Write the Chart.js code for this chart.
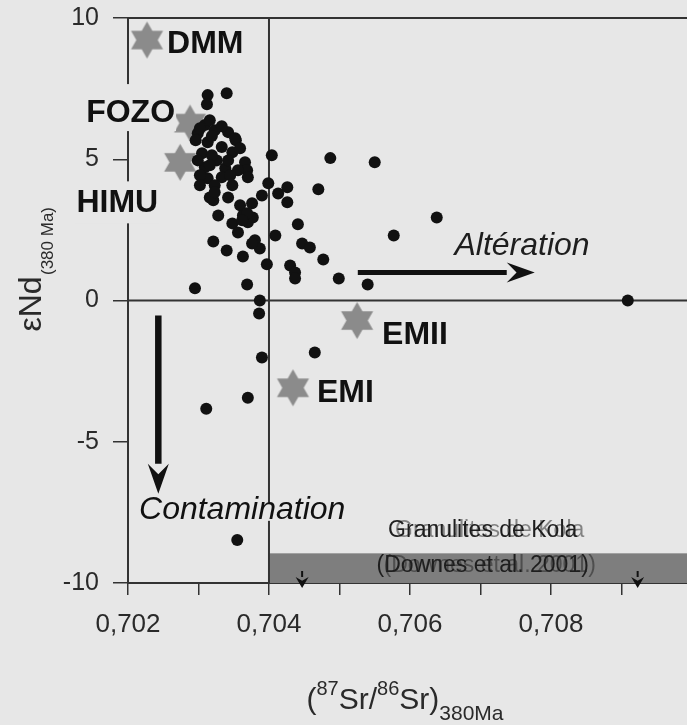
<!DOCTYPE html>
<html>
<head>
<meta charset="utf-8">
<script src="https://cdn.jsdelivr.net/npm/chart.js@4"></script>
<style>
  html, body { margin: 0; padding: 0; background: #e7e7e7; overflow: hidden; }
  #wrap { width: 687px; height: 725px; }
</style>
</head>
<body>
<div id="wrap"><canvas id="grafico" width="687" height="725"></canvas></div>
<script>
// échantillons : (87Sr/86Sr)380Ma et eNd(380 Ma)
const sampleSr = [
    0.70313, 0.70312, 0.70340, 0.70404, 0.70487, 0.70550, 0.70470, 0.70638, 0.70577, 0.70441,
    0.70409, 0.70447, 0.70458, 0.70477, 0.70397, 0.70430, 0.70437, 0.70437, 0.70499, 0.70540,
    0.70909, 0.70387, 0.70386, 0.70426, 0.70413, 0.70426, 0.70390, 0.70465, 0.70370, 0.70311,
    0.70355, 0.70295, 0.70369, 0.70321, 0.70340, 0.70363, 0.70380, 0.70387, 0.70376, 0.70321,
    0.70342, 0.70359, 0.70376, 0.70390, 0.70328, 0.70363, 0.70377, 0.70348, 0.70370, 0.70356,
    0.70309, 0.70299, 0.70323, 0.70342, 0.70313, 0.70333, 0.70348, 0.70305, 0.70326, 0.70309,
    0.70338, 0.70313, 0.70333, 0.70366, 0.70369, 0.70370, 0.70348, 0.70399, 0.70296, 0.70316,
    0.70353, 0.70302, 0.70323, 0.70316, 0.70369, 0.70362, 0.70302, 0.70319, 0.70333, 0.70352,
    0.70359, 0.70299, 0.70319, 0.70342, 0.70356, 0.70302, 0.70323, 0.70345, 0.70316
];
const sampleNd = [
    7.27, 6.95, 7.34, 5.14, 5.04, 4.89, 3.94, 2.94, 2.30, 2.70,
    2.30, 2.02, 1.88, 1.45, 1.28, 1.24, 0.99, 0.78, 0.78, 0.57,
    0.00, 0.00, -0.46, 4.01, 3.79, 3.48, -2.02, -1.84, -3.44, -3.83,
    -8.48, 0.43, 0.57, 2.09, 1.77, 1.56, 2.13, 1.84, 2.02, 3.55,
    3.65, 3.37, 3.44, 3.72, 3.01, 3.01, 2.94, 2.73, 2.77, 2.41,
    6.21, 5.92, 6.03, 5.96, 5.60, 5.43, 5.25, 5.21, 4.96, 4.72,
    4.68, 4.33, 4.36, 4.89, 4.61, 4.36, 4.08, 4.15, 5.67, 6.38,
    5.67, 4.43, 4.08, 3.65, 3.09, 2.84, 6.10, 5.82, 6.17, 5.74,
    5.39, 4.96, 5.14, 4.96, 4.61, 4.08, 3.83, 4.43, 4.79
];

// pôles mantelliques
const poleNames = ["DMM", "FOZO", "HIMU", "EMII", "EMI"];
const poleSr = [0.70227, 0.70288, 0.70274, 0.70525, 0.70434];
const poleNd = [9.22, 6.28, 4.89, -0.71, -3.09];

// axes
const xTickLabels = ["0,702", "0,704", "0,706", "0,708"];
const yTickLabels = ["-10", "-5", "0", "5", "10"];

// flèches et granulites de Kola
const alterationSr = [0.70526, 0.70777];
const alterationNd = [0.99, 0.99];
const contaminationSr = [0.70243, 0.70243];
const contaminationNd = [-0.53, -6.84];
const kolaSrStart = 0.704;
const kolaNdTop = -8.95;
const kolaArrowSr = [0.70447, 0.70923];

const BG = "#e7e7e7";
const FONT = "'Liberation Sans', Arial, sans-serif";
const INK = "#2a2a2a";

// position des étiquettes par rapport aux étoiles (px)
const poleLabelPos = {
    DMM: { dx: 20, dy: 4, align: "left" },
    FOZO: { dx: -15, dy: -10, align: "right", padT: 18, padB: 7 },
    HIMU: { dx: -22, dy: 41, align: "right", padT: 11, padB: 9 },
    EMII: { dx: 25, dy: 15, align: "left" },
    EMI: { dx: 24, dy: 5, align: "left" }
};

function makeStar(r) {
    const c = document.createElement("canvas");
    const s = Math.ceil(r * 2 + 2);
    c.width = s; c.height = s;
    const g = c.getContext("2d");
    const cx = s / 2, cy = s / 2;
    g.fillStyle = "#8b8b8b";
    g.beginPath();
    for (let i = 0; i < 12; i++) {
        const rad = i % 2 === 0 ? r : r / Math.sqrt(3);
        const ang = -Math.PI / 2 + i * Math.PI / 6;
        const px = cx + rad * Math.cos(ang), py = cy + rad * Math.sin(ang);
        if (i === 0) g.moveTo(px, py); else g.lineTo(px, py);
    }
    g.closePath();
    g.fill();
    return c;
}

function arrow(ctx, x1, y1, x2, y2, w, headLen, headW) {
    const ang = Math.atan2(y2 - y1, x2 - x1);
    const bx = x2 - headLen * Math.cos(ang), by = y2 - headLen * Math.sin(ang);
    ctx.strokeStyle = "#111";
    ctx.fillStyle = "#111";
    ctx.lineWidth = w;
    ctx.beginPath();
    ctx.moveTo(x1, y1);
    ctx.lineTo(bx, by);
    ctx.stroke();
    ctx.beginPath();
    ctx.moveTo(x2, y2);
    ctx.lineTo(bx + headW / 2 * Math.sin(ang), by - headW / 2 * Math.cos(ang));
    ctx.lineTo(bx + 0.35 * headLen * Math.cos(ang), by + 0.35 * headLen * Math.sin(ang));
    ctx.lineTo(bx - headW / 2 * Math.sin(ang), by + headW / 2 * Math.cos(ang));
    ctx.closePath();
    ctx.fill();
}

function labelWithBg(ctx, text, x, y, align, padT, padB) {
    const w = ctx.measureText(text).width;
    const left = align === "right" ? x - w : (align === "center" ? x - w / 2 : x);
    if (padT !== undefined) {
        ctx.fillStyle = BG;
        ctx.fillRect(left - 2, y - 11 - padT, w + 3, 22 + padT + padB);
    }
    ctx.fillStyle = "#111";
    ctx.textAlign = align;
    ctx.fillText(text, x, y);
}

const decor = {
    id: "decor",
    beforeDatasetsDraw(chart) {
        const { ctx, chartArea: a, scales: { x, y } } = chart;
        ctx.save();
        // bande des granulites de Kola
        const bx = x.getPixelForValue(kolaSrStart);
        const by = y.getPixelForValue(kolaNdTop);
        ctx.fillStyle = "#7e7e7e";
        ctx.fillRect(bx, by, a.right - bx, y.getPixelForValue(-10) - by);
        // lignes de référence
        ctx.strokeStyle = "#333";
        ctx.lineWidth = 2;
        ctx.beginPath();
        ctx.moveTo(a.left, y.getPixelForValue(0));
        ctx.lineTo(a.right, y.getPixelForValue(0));
        ctx.moveTo(bx, a.top);
        ctx.lineTo(bx, a.bottom);
        ctx.moveTo(a.left, a.top);
        ctx.lineTo(a.right, a.top);
        ctx.stroke();
        // textes Kola (impression doublée)
        const kx = x.getPixelForValue(0.70706);
        ctx.font = `23px ${FONT}`;
        ctx.textAlign = "center";
        ctx.textBaseline = "middle";
        ctx.fillStyle = "rgba(30,30,30,0.5)";
        ctx.fillText("Granulites de Kola", kx + 5, y.getPixelForValue(-8.16));
        ctx.fillText("(Downes et al. 2001)", kx + 5, y.getPixelForValue(-9.40));
        ctx.fillStyle = "#1e1e1e";
        ctx.fillText("Granulites de Kola", kx - 2, y.getPixelForValue(-8.16));
        ctx.fillText("(Downes et al. 2001)", kx - 2, y.getPixelForValue(-9.40));
        ctx.restore();
    },
    afterDraw(chart) {
        const { ctx, chartArea: a, scales: { x, y } } = chart;
        ctx.save();
        ctx.textBaseline = "middle";

        // Contamination (coupe la ligne 0,704)
        ctx.font = `italic 32px ${FONT}`;
        labelWithBg(ctx, "Contamination", x.getPixelForValue(0.70362), y.getPixelForValue(-7.41), "center", -4, 0);
        ctx.fillStyle = "#1e1e1e";
        ctx.textAlign = "center";
        ctx.fillText("Altération", x.getPixelForValue(0.70759), y.getPixelForValue(1.91));

        // étiquettes des pôles
        ctx.font = `bold 32px ${FONT}`;
        poleNames.forEach((n, i) => {
            const p = poleLabelPos[n];
            const px = x.getPixelForValue(poleSr[i]) + p.dx;
            const py = y.getPixelForValue(poleNd[i]) + p.dy;
            labelWithBg(ctx, n, px, py, p.align, p.padT, p.padB);
        });

        // flèches
        arrow(ctx, x.getPixelForValue(alterationSr[0]), y.getPixelForValue(alterationNd[0]),
            x.getPixelForValue(alterationSr[1]), y.getPixelForValue(alterationNd[1]), 5, 28, 20);
        arrow(ctx, x.getPixelForValue(contaminationSr[0]), y.getPixelForValue(contaminationNd[0]),
            x.getPixelForValue(contaminationSr[1]), y.getPixelForValue(contaminationNd[1]), 6.5, 30, 21);
        kolaArrowSr.forEach(v => {
            const px = x.getPixelForValue(v);
            arrow(ctx, px, a.bottom - 12, px, a.bottom + 5, 2, 11, 13);
        });

        // titre axe x
        const parts = [
            { t: "(", f: 30, dy: 0 },
            { t: "87", f: 20, dy: -14 },
            { t: "Sr/", f: 30, dy: 0 },
            { t: "86", f: 20, dy: -14 },
            { t: "Sr)", f: 30, dy: 0 },
            { t: "380Ma", f: 21, dy: 11 }
        ];
        ctx.textBaseline = "alphabetic";
        ctx.textAlign = "left";
        ctx.fillStyle = INK;
        let total = 0;
        parts.forEach(p => { ctx.font = `${p.f}px ${FONT}`; p.w = ctx.measureText(p.t).width; total += p.w; });
        let cx = 405 - total / 2;
        parts.forEach(p => {
            ctx.font = `${p.f}px ${FONT}`;
            ctx.fillText(p.t, cx, 709 + p.dy);
            cx += p.w;
        });

        // titre axe y
        ctx.save();
        ctx.translate(41, 304);
        ctx.rotate(-Math.PI / 2);
        ctx.font = `32px ${FONT}`;
        ctx.textAlign = "center";
        ctx.fillText("\u03b5Nd", 0, 0);
        ctx.font = `17px ${FONT}`;
        ctx.textAlign = "left";
        ctx.fillText("(380 Ma)", 29, 12);
        ctx.restore();

        ctx.restore();
    }
};

const chart = new Chart(document.getElementById("grafico"), {
    type: "scatter",
    data: {
        datasets: [
            {
                label: "Échantillons",
                data: sampleSr.map((v, i) => ({ x: v, y: sampleNd[i] })),
                backgroundColor: "#111",
                borderWidth: 0,
                pointRadius: 6,
                hoverRadius: 6
            },
            {
                label: "Pôles",
                data: poleSr.map((v, i) => ({ x: v, y: poleNd[i] })),
                pointStyle: makeStar(18.5),
                borderWidth: 0,
                pointRadius: 6,
                hoverRadius: 6
            }
        ]
    },
    options: {
        responsive: false,
        animation: false,
        devicePixelRatio: 1,
        layout: { autoPadding: false, padding: { top: 18, right: 0, left: 0, bottom: 0 } },
        plugins: { legend: { display: false }, tooltip: { enabled: false } },
        scales: {
            x: {
                type: "linear",
                min: 0.702,
                max: 0.70993,
                afterFit: s => { s.height = 142; s.paddingLeft = 0; s.paddingRight = 0; },
                border: { display: true, color: "#333", width: 2 },
                grid: { drawOnChartArea: false, color: "#333", lineWidth: 1.5, tickLength: 12 },
                ticks: {
                    stepSize: 0.001,
                    includeBounds: false,
                    autoSkip: false,
                    maxRotation: 0,
                    padding: 14,
                    color: INK,
                    font: { family: FONT, size: 26 },
                    callback: v => {
                        const k = Math.round((v - 0.702) * 1000);
                        return k % 2 === 0 ? xTickLabels[k / 2] : "";
                    }
                }
            },
            y: {
                min: -10,
                max: 10,
                afterFit: s => { s.width = 128; s.paddingTop = 0; s.paddingBottom = 0; },
                border: { display: true, color: "#333", width: 2 },
                grid: { drawOnChartArea: false, color: "#333", lineWidth: 1.5, tickLength: 15 },
                ticks: {
                    stepSize: 5,
                    padding: 14,
                    color: INK,
                    font: { family: FONT, size: 25 },
                    callback: v => yTickLabels[(v + 10) / 5]
                }
            }
        }
    },
    plugins: [decor]
});
</script>
</body>
</html>
